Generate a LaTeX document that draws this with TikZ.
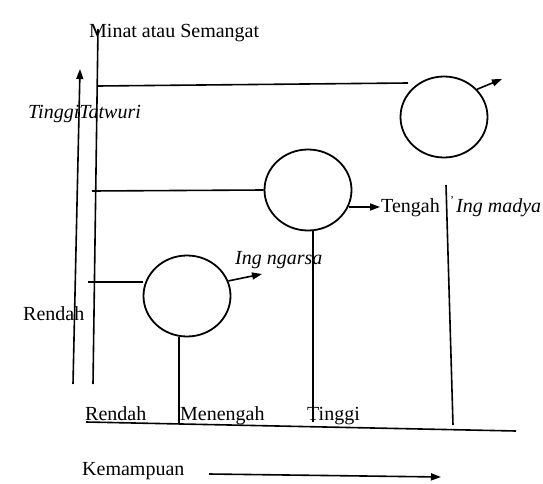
\documentclass[tikz,border=0pt]{standalone}
\usepackage{fontspec}
\setmainfont{Liberation Serif}
\usetikzlibrary{shapes.geometric,arrows.meta}
\begin{document}
\begin{tikzpicture}[x=1pt,y=-1pt,
  line/.style={line width=1.6pt},
  ring/.style={draw,ellipse,line width=1.8pt,inner sep=0pt,minimum width=87pt,minimum height=81pt},
  tip/.style={line,-{Triangle[length=10pt,width=7pt]}},
  lbl/.style={font=\fontsize{20}{22}\selectfont,inner sep=0pt,anchor=base west},
  ilbl/.style={lbl,font=\fontsize{20}{22}\selectfont\itshape}]
\useasboundingbox (0,0) rectangle (543,484);

% axes
\coordinate (ya0) at (73,384);
\coordinate (ya1) at (80,69);
\coordinate (ax0) at (93,384);
\coordinate (ax1) at (98,29);
\coordinate (bx0) at (86,422);
\coordinate (bx1) at (516,431);
\coordinate (k0) at (209,474);
\coordinate (k1) at (441,477);
\draw[tip] (ya0) -- (ya1);
\draw[line] (ax0) -- (ax1);
\draw[line] (bx0) -- (bx1);
\draw[tip] (k0) -- (k1);

% the three rings
\node[ring] (c1) at (444,117) {};
\node[ring] (c2) at (308,190) {};
\node[ring] (c3) at (187,296) {};

% levels from the vertical axis
\coordinate (h1a) at (98,86);
\coordinate (h1b) at (408,83);
\coordinate (h2a) at (92,191);
\coordinate (h3a) at (88,282);
\draw[line] (h1a) -- (h1b);
\draw[line] (h2a) -- (c2.west);
\draw[line] (h3a) -- (h3a -| c3.west);

% drops to the horizontal axis
\coordinate (d2) at (313,422);
\coordinate (d3) at (179,424);
\coordinate (r0) at (446,185);
\coordinate (r1) at (453,425);
\draw[line] (d2 |- c2.south) -- (d2);
\draw[line] (d3 |- c3.south) -- (d3);
\draw[line] (r0) -- (r1);

% arrows out of the rings
\coordinate (e1) at (502,79);
\coordinate (e2) at (380,207);
\coordinate (e3) at (262,274);
\draw[tip] (c1.40) -- (e1);
\draw[tip] (c2.-22 |- e2) -- (e2);
\draw[tip] (c3.20) -- (e3);

% labels
\node[lbl] (minat) at (89,38) {Minat atau Semangat};
\node[ilbl] (tt) at (28,118) {TinggiTatwuri};
\node[lbl] (rl) at (23,320) {Rendah};
\node[ilbl] (ngarsa) at (235,264) {Ing ngarsa};
\node[lbl] (tengah) at (381,212) {Tengah};
\node[lbl,font=\fontsize{12}{12}\selectfont] (tick) at (450,204) {'};
\node[ilbl] (madya) at (456,212) {Ing madya};
\node[lbl] (rb) at (85,420) {Rendah};
\node[lbl] (mb) at (180,420) {Menengah};
\node[lbl] (tb) at (307,420) {Tinggi};
\node[lbl] (kem) at (82,475) {Kemampuan};
\end{tikzpicture}
\end{document}
